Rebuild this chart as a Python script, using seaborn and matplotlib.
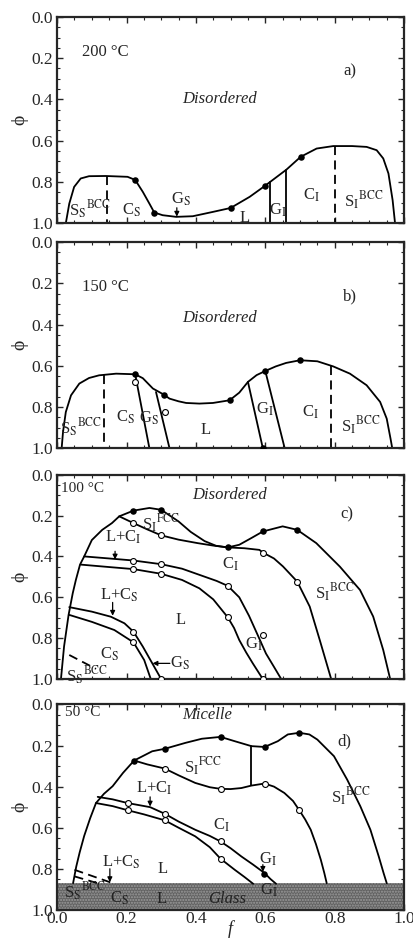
import matplotlib
matplotlib.use('Agg')
import matplotlib.pyplot as plt
from matplotlib.ticker import MultipleLocator
import seaborn as sns

sns.set_style('ticks')
plt.rcParams['font.family'] = ['Liberation Serif', 'DejaVu Serif']
plt.rcParams['mathtext.fontset'] = 'stix'
plt.rcParams['hatch.linewidth'] = 1.0

# --- panel a) 200 C ---
A_OUT_F = [0.025, 0.035, 0.049, 0.068, 0.092, 0.14, 0.203, 0.225, 0.247, 0.266, 0.28, 0.304,
           0.343, 0.391, 0.449, 0.50, 0.555, 0.598, 0.661, 0.702, 0.748, 0.796, 0.85, 0.892,
           0.921, 0.94, 0.955, 0.967, 0.974]
A_OUT_P = [1.0, 0.905, 0.824, 0.783, 0.772, 0.771, 0.775, 0.79, 0.848, 0.905, 0.948, 0.961,
           0.969, 0.966, 0.945, 0.926, 0.872, 0.82, 0.74, 0.678, 0.638, 0.626, 0.626, 0.63,
           0.646, 0.686, 0.759, 0.888, 1.0]
A_DOT_F = [0.225, 0.28, 0.50, 0.598, 0.702]
A_DOT_P = [0.79, 0.948, 0.926, 0.82, 0.678]
A_SOLID = [(0.613, 0.80), (0.661, 0.74)]
A_DASH = [(0.143, 0.772), (0.80, 0.626)]

# --- panel b) 150 C ---
B_OUT_F = [0.013, 0.017, 0.025, 0.04, 0.064, 0.092, 0.121, 0.17, 0.225, 0.247, 0.276, 0.307,
           0.324, 0.35, 0.372, 0.41, 0.449, 0.497, 0.525, 0.55, 0.575, 0.60, 0.63, 0.66, 0.70,
           0.75, 0.796, 0.844, 0.892, 0.931, 0.95, 0.961, 0.966]
B_OUT_P = [1.0, 0.92, 0.824, 0.743, 0.686, 0.659, 0.646, 0.638, 0.641, 0.66, 0.71, 0.739,
           0.759, 0.772, 0.78, 0.783, 0.78, 0.767, 0.73, 0.678, 0.645, 0.625, 0.603, 0.586, 0.573,
           0.578, 0.603, 0.638, 0.694, 0.775, 0.856, 0.953, 1.0]
B_DOT_F = [0.225, 0.307, 0.497, 0.60, 0.70, 0.593]
B_DOT_P = [0.641, 0.739, 0.767, 0.625, 0.573, 1.0]
B_OPEN_F = [0.225, 0.311]
B_OPEN_P = [0.678, 0.824]
B_TIES = [((0.225, 0.641), (0.266, 1.0)), ((0.285, 0.727), (0.324, 1.0)),
          ((0.55, 0.678), (0.593, 1.0)), ((0.60, 0.625), (0.656, 1.0))]
B_DASH = [(0.136, 0.646), (0.79, 0.603)]

# --- panel c) 100 C ---
C_OUT_F = [0.011, 0.02, 0.033, 0.045, 0.054, 0.066, 0.078, 0.10, 0.13, 0.158, 0.179, 0.22,
           0.266, 0.30, 0.35, 0.385, 0.425, 0.458, 0.492, 0.525, 0.56, 0.593, 0.65, 0.692, 0.747,
           0.815, 0.873, 0.911, 0.94, 0.96]
C_OUT_P = [1.0, 0.84, 0.686, 0.58, 0.515, 0.44, 0.40, 0.32, 0.27, 0.237, 0.204, 0.176,
           0.163, 0.172, 0.229, 0.28, 0.325, 0.348, 0.356, 0.343, 0.31, 0.278, 0.253, 0.27, 0.335,
           0.45, 0.564, 0.694, 0.858, 1.0]
C_FCC_F = [0.179, 0.22, 0.26, 0.30, 0.35, 0.405, 0.45, 0.492, 0.54, 0.583, 0.593, 0.625,
           0.651, 0.692, 0.728, 0.757, 0.79]
C_FCC_P = [0.204, 0.237, 0.268, 0.297, 0.318, 0.335, 0.347, 0.356, 0.36, 0.368, 0.381, 0.41,
           0.449, 0.523, 0.645, 0.809, 1.0]
C_LCI_UP_F = [0.078, 0.15, 0.22, 0.30, 0.36, 0.41, 0.46, 0.492, 0.525, 0.553, 0.578, 0.602, 0.625, 0.646]
C_LCI_UP_P = [0.40, 0.41, 0.42, 0.438, 0.46, 0.49, 0.52, 0.544, 0.60, 0.69, 0.784, 0.875, 0.94, 1.0]
C_LCI_LO_F = [0.068, 0.15, 0.22, 0.30, 0.36, 0.41, 0.45, 0.492, 0.51, 0.525, 0.545, 0.564, 0.593]
C_LCI_LO_P = [0.44, 0.452, 0.462, 0.485, 0.515, 0.556, 0.61, 0.698, 0.75, 0.809, 0.87, 0.923, 1.0]
C_LCS_UP_F = [0.035, 0.10, 0.155, 0.194, 0.22, 0.247, 0.28, 0.30]
C_LCS_UP_P = [0.648, 0.67, 0.695, 0.727, 0.768, 0.841, 0.94, 1.0]
C_LCS_LO_F = [0.035, 0.10, 0.165, 0.22, 0.251, 0.27]
C_LCS_LO_P = [0.686, 0.72, 0.76, 0.82, 0.907, 1.0]
C_DOT_F = [0.22, 0.30, 0.492, 0.593, 0.692]
C_DOT_P = [0.176, 0.172, 0.356, 0.278, 0.27]
C_OPEN_F = [0.22, 0.30, 0.593, 0.692, 0.22, 0.30, 0.492, 0.22, 0.30, 0.492, 0.593,
            0.593, 0.22, 0.22, 0.30]
C_OPEN_P = [0.237, 0.297, 0.381, 0.523, 0.42, 0.438, 0.544, 0.462, 0.485, 0.698, 1.0,
            0.784, 0.768, 0.82, 1.0]
C_DASH_F = [0.035, 0.112]
C_DASH_P = [0.882, 0.95]

# --- panel d) 50 C ---
D_OUT_F = [0.046, 0.055, 0.065, 0.078, 0.095, 0.112, 0.135, 0.16, 0.19, 0.222, 0.274, 0.31,
           0.37, 0.417, 0.471, 0.512, 0.56, 0.598, 0.636, 0.665, 0.698, 0.727, 0.75, 0.798,
           0.836, 0.874, 0.903, 0.927, 0.941, 0.95]
D_OUT_P = [0.87, 0.79, 0.72, 0.64, 0.555, 0.48, 0.435, 0.398, 0.333, 0.273, 0.228, 0.216,
           0.187, 0.167, 0.158, 0.179, 0.203, 0.207, 0.179, 0.146, 0.138, 0.146, 0.171, 0.252,
           0.366, 0.496, 0.61, 0.74, 0.821, 0.87]
D_FCC_F = [0.222, 0.26, 0.31, 0.35, 0.398, 0.44, 0.471, 0.50, 0.531, 0.56, 0.598, 0.625,
           0.655, 0.68, 0.698, 0.715, 0.731, 0.746, 0.76, 0.77, 0.777]
D_FCC_P = [0.273, 0.292, 0.312, 0.345, 0.382, 0.403, 0.411, 0.412, 0.407, 0.395, 0.385, 0.40,
           0.431, 0.47, 0.515, 0.56, 0.61, 0.68, 0.756, 0.82, 0.87]
D_LCI_UP_F = [0.117, 0.16, 0.203, 0.268, 0.31, 0.35, 0.398, 0.44, 0.471, 0.50, 0.531, 0.565, 0.598, 0.615, 0.631]
D_LCI_UP_P = [0.45, 0.462, 0.48, 0.50, 0.532, 0.57, 0.61, 0.64, 0.667, 0.70, 0.74, 0.78, 0.821, 0.85, 0.873]
D_LCI_LO_F = [0.112, 0.16, 0.203, 0.25, 0.31, 0.35, 0.398, 0.44, 0.471, 0.512, 0.54, 0.565]
D_LCI_LO_P = [0.48, 0.495, 0.515, 0.535, 0.564, 0.60, 0.642, 0.695, 0.751, 0.805, 0.84, 0.873]
D_DOT_F = [0.222, 0.31, 0.471, 0.598, 0.698, 0.595]
D_DOT_P = [0.273, 0.216, 0.158, 0.207, 0.138, 0.824]
D_OPEN_F = [0.31, 0.471, 0.598, 0.698, 0.203, 0.31, 0.471, 0.203, 0.31, 0.471]
D_OPEN_P = [0.312, 0.411, 0.385, 0.515, 0.48, 0.532, 0.667, 0.515, 0.564, 0.751]
D_DASH1_F, D_DASH1_P = [0.05, 0.165], [0.805, 0.873]
D_DASH2_F, D_DASH2_P = [0.05, 0.122], [0.837, 0.873]
GLASS_TOP = 0.87

LW = 1.3
FS = 12


def curve(ax, f, p, dashed=False):
    kw = dict(dashes=(5, 3)) if dashed else {}
    sns.lineplot(x=f, y=p, sort=False, estimator=None, color='black', lw=LW,
                 ax=ax, zorder=2, **kw)


def seg(ax, p0, p1, dashed=False):
    curve(ax, [p0[0], p1[0]], [p0[1], p1[1]], dashed)


def dots(ax, f, p, filled=True):
    if filled:
        sns.scatterplot(x=f, y=p, color='black', s=22, ax=ax, zorder=4, linewidth=0)
    else:
        sns.scatterplot(x=f, y=p, color='white', edgecolor='black', s=18, ax=ax,
                        zorder=4, linewidth=0.8)


def arrow(ax, start, end):
    ax.annotate('', xy=end, xytext=start,
                arrowprops=dict(arrowstyle='-|>', color='black', lw=0.9,
                                mutation_scale=7, shrinkA=0, shrinkB=0))


def txt(ax, x, y, s, size=FS, **kw):
    ax.text(x, y, s, fontsize=size, ha='center', va='center', zorder=5, **kw)


def style(ax, last=False):
    ax.set_xlim(0, 1)
    ax.set_ylim(1.0, 0.0)
    ax.xaxis.set_major_locator(MultipleLocator(0.2))
    ax.xaxis.set_minor_locator(MultipleLocator(0.05))
    ax.yaxis.set_major_locator(MultipleLocator(0.2))
    ax.yaxis.set_minor_locator(MultipleLocator(0.05))
    ax.tick_params(which='both', direction='in', top=True, right=True, labelsize=12.5, pad=3)
    ax.tick_params(which='major', length=4, width=1)
    ax.tick_params(which='minor', length=2, width=0.8)
    ax.set_yticks([0.0, 0.2, 0.4, 0.6, 0.8, 1.0])
    ax.set_yticklabels(['0.0', '0.2', '0.4', '0.6', '0.8', '1.0'])
    for sp in ax.spines.values():
        sp.set_linewidth(1.6)
    ax.set_ylabel('ϕ', fontsize=14, labelpad=2)
    if last:
        ax.set_xticks([0.0, 0.2, 0.4, 0.6, 0.8, 1.0])
        ax.set_xticklabels(['0.0', '0.2', '0.4', '0.6', '0.8', '1.0'])
        ax.tick_params(axis='x', pad=1)
        ax.set_xlabel('f', fontstyle='italic', fontsize=13, labelpad=-5)
    else:
        ax.set_xticklabels([])
        ax.set_xlabel('')


fig = plt.figure(figsize=(4.14, 9.38), dpi=100)
axa = fig.add_axes([0.138, 0.762, 0.838, 0.220])
axb = fig.add_axes([0.138, 0.522, 0.838, 0.220])
axc = fig.add_axes([0.138, 0.276, 0.838, 0.218])
axd = fig.add_axes([0.138, 0.030, 0.838, 0.219])

# a)
curve(axa, A_OUT_F, A_OUT_P)
for f0, p0 in A_SOLID:
    seg(axa, (f0, p0), (f0, 1.0))
for f0, p0 in A_DASH:
    seg(axa, (f0, p0), (f0, 1.0), dashed=True)
dots(axa, A_DOT_F, A_DOT_P)
arrow(axa, (0.345, 0.925), (0.345, 0.968))
axa.text(0.073, 0.17, '200 °C', fontsize=FS, va='center')
txt(axa, 0.845, 0.265, 'a)')
txt(axa, 0.468, 0.40, 'Disordered', fontstyle='italic')
txt(axa, 0.095, 0.935, r'S$_\mathrm{S}$$^\mathrm{BCC}$')
txt(axa, 0.215, 0.935, r'C$_\mathrm{S}$')
txt(axa, 0.357, 0.885, r'G$_\mathrm{S}$')
txt(axa, 0.54, 0.975, 'L')
txt(axa, 0.637, 0.935, r'G$_\mathrm{I}$')
txt(axa, 0.733, 0.865, r'C$_\mathrm{I}$')
txt(axa, 0.885, 0.89, r'S$_\mathrm{I}$$^\mathrm{BCC}$')
style(axa)

# b)
curve(axb, B_OUT_F, B_OUT_P)
for p0, p1 in B_TIES:
    seg(axb, p0, p1)
for f0, p0 in B_DASH:
    seg(axb, (f0, p0), (f0, 1.0), dashed=True)
dots(axb, B_DOT_F, B_DOT_P)
dots(axb, B_OPEN_F, B_OPEN_P, filled=False)
axb.text(0.073, 0.22, '150 °C', fontsize=FS, va='center')
txt(axb, 0.845, 0.265, 'b)')
txt(axb, 0.468, 0.37, 'Disordered', fontstyle='italic')
txt(axb, 0.07, 0.90, r'S$_\mathrm{S}$$^\mathrm{BCC}$')
txt(axb, 0.198, 0.85, r'C$_\mathrm{S}$')
txt(axb, 0.266, 0.855, r'G$_\mathrm{S}$')
txt(axb, 0.428, 0.91, 'L')
txt(axb, 0.598, 0.81, r'G$_\mathrm{I}$')
txt(axb, 0.73, 0.825, r'C$_\mathrm{I}$')
txt(axb, 0.875, 0.89, r'S$_\mathrm{I}$$^\mathrm{BCC}$')
style(axb)

# c)
curve(axc, C_OUT_F, C_OUT_P)
curve(axc, C_FCC_F, C_FCC_P)
curve(axc, C_LCI_UP_F, C_LCI_UP_P)
curve(axc, C_LCI_LO_F, C_LCI_LO_P)
curve(axc, C_LCS_UP_F, C_LCS_UP_P)
curve(axc, C_LCS_LO_F, C_LCS_LO_P)
curve(axc, C_DASH_F, C_DASH_P, dashed=True)
dots(axc, C_DOT_F, C_DOT_P)
dots(axc, C_OPEN_F, C_OPEN_P, filled=False)
arrow(axc, (0.167, 0.375), (0.167, 0.415))
arrow(axc, (0.16, 0.625), (0.16, 0.69))
arrow(axc, (0.325, 0.923), (0.275, 0.923))
axc.text(0.012, 0.07, '100 °C', fontsize=11, va='center')
txt(axc, 0.496, 0.098, 'Disordered', fontstyle='italic')
txt(axc, 0.835, 0.196, 'c)')
txt(axc, 0.30, 0.24, r'S$_\mathrm{I}$$^\mathrm{FCC}$')
txt(axc, 0.19, 0.305, r'L+C$_\mathrm{I}$')
txt(axc, 0.50, 0.44, r'C$_\mathrm{I}$')
txt(axc, 0.80, 0.58, r'S$_\mathrm{I}$$^\mathrm{BCC}$')
txt(axc, 0.18, 0.59, r'L+C$_\mathrm{S}$')
txt(axc, 0.356, 0.71, 'L')
txt(axc, 0.568, 0.83, r'G$_\mathrm{I}$')
txt(axc, 0.15, 0.88, r'C$_\mathrm{S}$')
txt(axc, 0.355, 0.923, r'G$_\mathrm{S}$')
txt(axc, 0.085, 0.985, r'S$_\mathrm{S}$$^\mathrm{BCC}$')
style(axc)

# d)
axd.fill_between([0.0, 1.0], GLASS_TOP, 1.0, facecolor='#626262', edgecolor='#9c9c9c',
                 hatch='......', linewidth=0, zorder=1)
curve(axd, D_OUT_F, D_OUT_P)
curve(axd, D_FCC_F, D_FCC_P)
curve(axd, D_LCI_UP_F, D_LCI_UP_P)
curve(axd, D_LCI_LO_F, D_LCI_LO_P)
curve(axd, D_DASH1_F, D_DASH1_P, dashed=True)
curve(axd, D_DASH2_F, D_DASH2_P, dashed=True)
seg(axd, (0.56, 0.203), (0.56, 0.39))
dots(axd, D_DOT_F, D_DOT_P)
dots(axd, D_OPEN_F, D_OPEN_P, filled=False)
arrow(axd, (0.268, 0.45), (0.268, 0.497))
arrow(axd, (0.152, 0.80), (0.152, 0.865))
arrow(axd, (0.593, 0.78), (0.593, 0.815))
axd.text(0.022, 0.04, '50 °C', fontsize=11, va='center')
txt(axd, 0.431, 0.05, 'Micelle', fontstyle='italic')
txt(axd, 0.827, 0.18, 'd)')
txt(axd, 0.42, 0.305, r'S$_\mathrm{I}$$^\mathrm{FCC}$')
txt(axd, 0.28, 0.41, r'L+C$_\mathrm{I}$')
txt(axd, 0.474, 0.59, r'C$_\mathrm{I}$')
txt(axd, 0.845, 0.45, r'S$_\mathrm{I}$$^\mathrm{BCC}$')
txt(axd, 0.184, 0.77, r'L+C$_\mathrm{S}$')
txt(axd, 0.303, 0.80, 'L')
txt(axd, 0.608, 0.755, r'G$_\mathrm{I}$')
txt(axd, 0.08, 0.912, r'S$_\mathrm{S}$$^\mathrm{BCC}$', color='#222222')
txt(axd, 0.18, 0.945, r'C$_\mathrm{S}$', color='#222222')
txt(axd, 0.30, 0.945, 'L', color='#222222')
txt(axd, 0.49, 0.945, 'Glass', color='#222222', fontstyle='italic')
txt(axd, 0.61, 0.905, r'G$_\mathrm{I}$', color='#222222')
style(axd, last=True)

fig.savefig('out.png', dpi=100)
